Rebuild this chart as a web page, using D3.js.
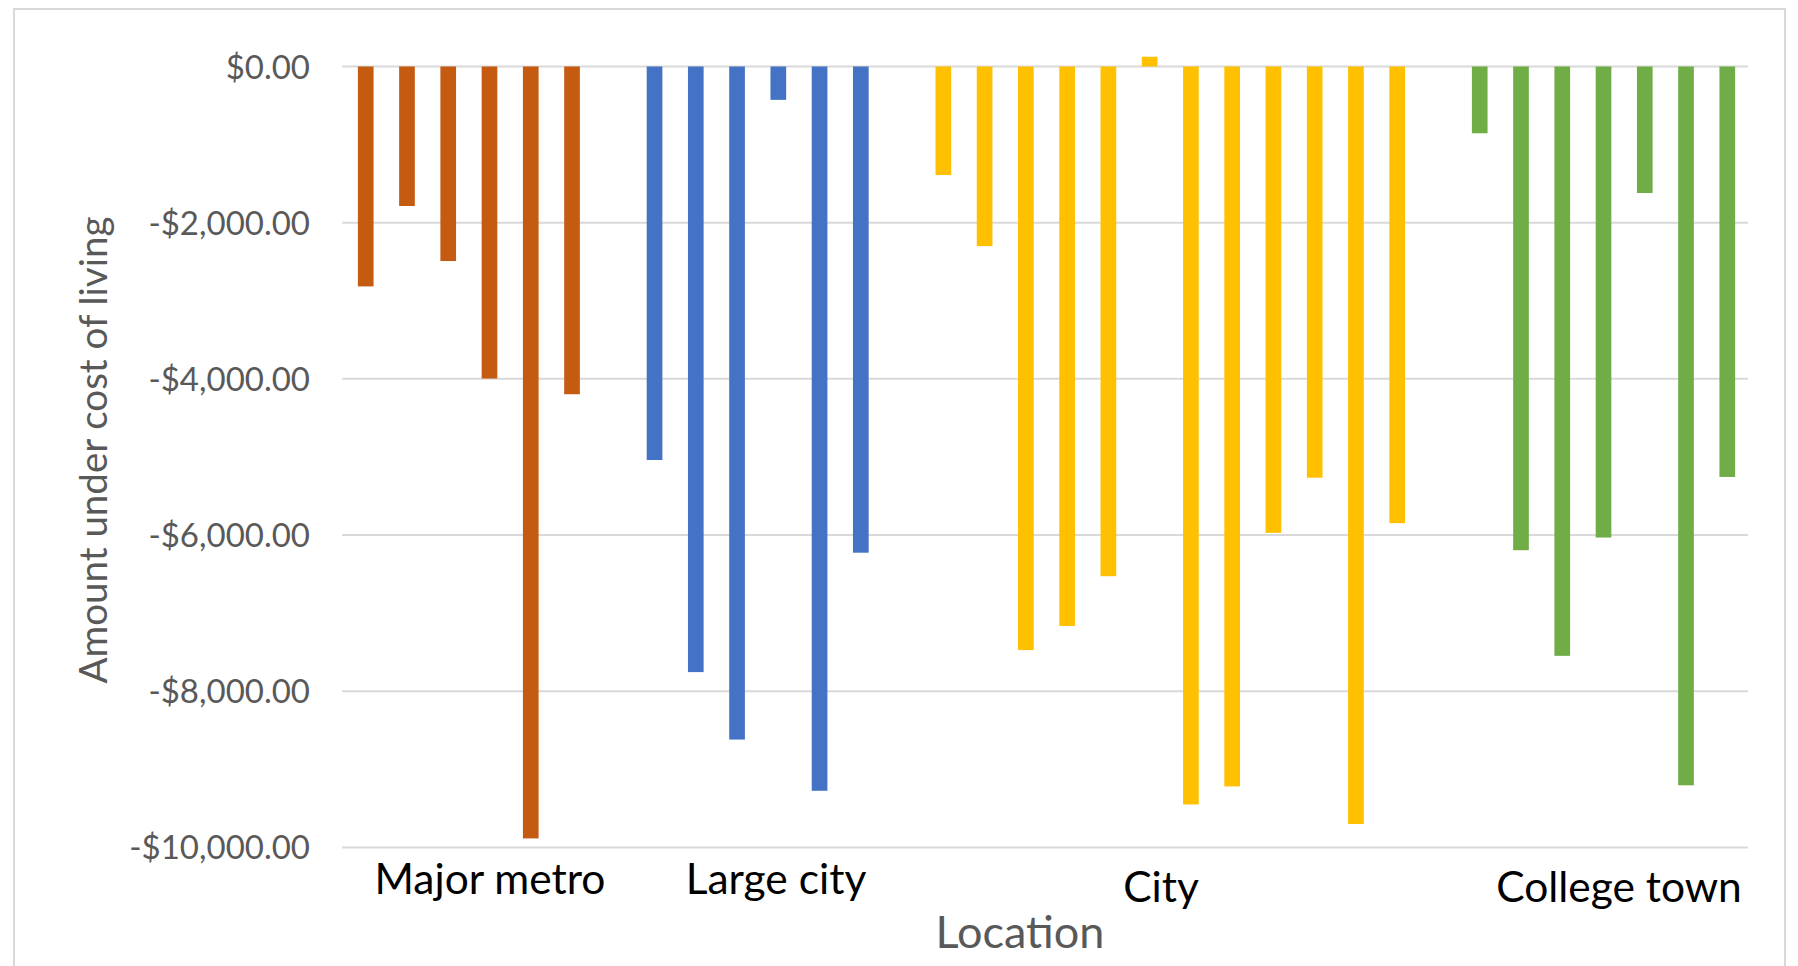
<!DOCTYPE html>
<html><head><meta charset="utf-8">
<script src="https://cdn.jsdelivr.net/npm/d3@7"></script>
<style>html,body{margin:0;padding:0;background:#fff;overflow:hidden}</style>
</head><body><svg id="chart" width="1798" height="966"></svg>
<script>
// ---- data ----
const groups = ["Major metro", "Large city", "City", "College town"];
const majorMetro = [-2816, -1786, -2491, -3996, -9885, -4197];
const largeCity = [-5039, -7755, -8619, -427, -9275, -6226];
const city = [-1390, -2300, -7473, -7164, -6527, 125, -9450, -9219, -5972, -5266, -9700, -5848];
const collegeTown = [-855, -6194, -7547, -6032, -1620, -9205, -5256];
const groupColors = ["#C55A11", "#4472C4", "#FFC000", "#70AD47"];
const yTicks = [0, -2000, -4000, -6000, -8000, -10000];
const yTitle = "Amount under cost of living";
const xTitle = "Location";

// ---- build slots ----
const series = [majorMetro, largeCity, city, collegeTown];
const slots = [];
const bars = [];
series.forEach((vals, gi) => {
  if (gi > 0) slots.push("gap" + gi);
  vals.forEach((v, i) => {
    const key = groups[gi] + " " + (i + 1);
    slots.push(key);
    bars.push({key, value: v, group: gi});
  });
});

const svg = d3.select("#chart");
const font = "Lato, 'Open Sans', sans-serif";
const plot = {left: 342, right: 1748, top: 66.5, bottom: 847.4};

svg.append("rect").attr("x", 14).attr("y", 9).attr("width", 1771).attr("height", 980)
  .attr("fill", "#fff").attr("stroke", "#d9d9d9").attr("stroke-width", 2);

const x = d3.scaleBand().domain(slots).range([plot.left + 3, plot.right])
  .paddingInner(0.62).paddingOuter(0.312);
const y = d3.scaleLinear().domain([-10000, 0]).range([plot.bottom, plot.top]);

const loc = d3.formatLocale({decimal: ".", thousands: ",", grouping: [3], currency: ["$", ""], minus: "-"});
const fmt = loc.format("$,.2f");

// gridlines
svg.append("g").selectAll("line").data(yTicks).join("line")
  .attr("x1", plot.left).attr("x2", plot.right)
  .attr("y1", d => y(d)).attr("y2", d => y(d))
  .attr("stroke", "#d9d9d9").attr("stroke-width", 2);

// y axis labels
const yAxis = svg.append("g").attr("transform", `translate(${plot.left - 32},0)`)
  .call(d3.axisLeft(y).tickValues(yTicks).tickFormat(fmt).tickSize(0).tickPadding(0));
yAxis.select(".domain").remove();
yAxis.selectAll("text").attr("font-family", font).attr("font-size", 33).attr("fill", "#595959").attr("dy", "0.35em");

// bars
svg.append("g").selectAll("rect").data(bars).join("rect")
  .attr("x", d => x(d.key)).attr("width", x.bandwidth())
  .attr("y", d => Math.min(y(d.value), y(0)))
  .attr("height", d => Math.abs(y(d.value) - y(0)))
  .attr("fill", d => groupColors[d.group]);

// category labels (hand-placed, as in the reference)
const labelPos = [[490, 894], [776, 894], [1161, 902], [1619, 902]];
svg.append("g").selectAll("text").data(groups).join("text")
  .attr("x", (d, i) => labelPos[i][0]).attr("y", (d, i) => labelPos[i][1])
  .attr("text-anchor", "middle").attr("font-family", font).attr("font-size", 42.5)
  .attr("fill", "#000").text(d => d);

// axis titles
svg.append("text").attr("x", 1020).attr("y", 948).attr("text-anchor", "middle")
  .attr("font-family", font).attr("font-size", 45).attr("fill", "#595959").text(xTitle);
svg.append("text").attr("transform", "translate(107,450) rotate(-90)").attr("text-anchor", "middle")
  .attr("font-family", font).attr("font-size", 38.5).attr("fill", "#595959").text(yTitle);
</script></body></html>
